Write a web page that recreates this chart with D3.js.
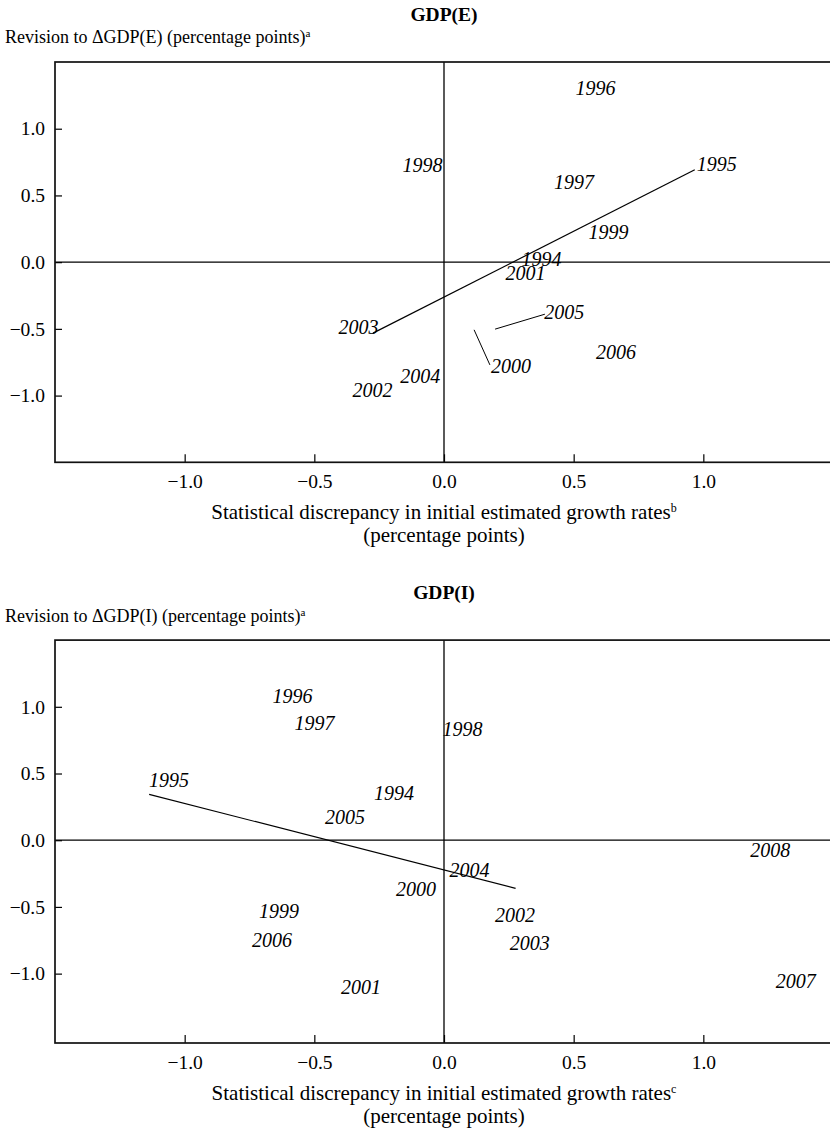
<!DOCTYPE html>
<html><head><meta charset="utf-8">
<script src="https://cdn.jsdelivr.net/npm/d3@7"></script>
<style>
body{margin:0;background:#fff}
svg{display:block}
text{font-family:"Liberation Serif","Times New Roman",serif;fill:#000}
</style>
</head><body>
<svg id="c" width="830" height="1130"></svg>
<script>
// ---- data ----
const xTicks = [-1.0, -0.5, 0.0, 0.5, 1.0];
const xTickLabels = ["\u22121.0", "\u22120.5", "0.0", "0.5", "1.0"];
const yTicks = [1.0, 0.5, 0.0, -0.5, -1.0];
const yTickLabels = ["1.0", "0.5", "0.0", "\u22120.5", "\u22121.0"];

// GDP(E) panel
const eYears = [1994, 1995, 1996, 1997, 1998, 1999, 2000, 2001, 2002, 2003, 2004, 2005, 2006];
const eX = [0.376, 1.052, 0.584, 0.501, -0.083, 0.634, 0.258, 0.314, -0.276, -0.330, -0.092, 0.464, 0.663];
const eY = [0.025, 0.737, 1.307, 0.602, 0.729, 0.227, -0.777, -0.080, -0.961, -0.485, -0.852, -0.376, -0.676];
const eFit = [[-0.274, -0.532], [0.967, 0.692]];
const eLeaders = [[0.197, -0.502, 0.389, -0.390], [0.116, -0.507, 0.177, -0.770]];

// GDP(I) panel
const iYears = [1994, 1995, 1996, 1997, 1998, 1999, 2000, 2001, 2002, 2003, 2004, 2005, 2006, 2007, 2008];
const iX = [-0.193, -1.060, -0.584, -0.499, 0.071, -0.636, -0.108, -0.320, 0.274, 0.331, 0.098, -0.382, -0.663, 1.356, 1.258];
const iY = [0.354, 0.451, 1.081, 0.879, 0.830, -0.531, -0.366, -1.098, -0.561, -0.771, -0.223, 0.170, -0.748, -1.055, -0.073];
const iFit = [[-1.137, 0.344], [0.276, -0.361]];
const iLeaders = [];

const panels = [
  {title: "GDP(E)", ylab: "Revision to \u0394GDP(E) (percentage points)", ysup: "a", xsup: "b",
   years: eYears, xs: eX, ys: eY, fit: eFit, leaders: eLeaders,
   yDomain: [-1.5, 1.5], top: 62, bottom: 462.3, titleY: 21, ylabY: 43},
  {title: "GDP(I)", ylab: "Revision to \u0394GDP(I) (percentage points)", ysup: "a", xsup: "c",
   years: iYears, xs: iX, ys: iY, fit: iFit, leaders: iLeaders,
   yDomain: [-1.52, 1.5], top: 640.1, bottom: 1043, titleY: 599, ylabY: 622}
];

const svg = d3.select("#c");
const left = 55, right = 833;
const x = d3.scaleLinear().domain([-1.5, 1.5]).range([left, right]);

panels.forEach(p => {
  const y = d3.scaleLinear().domain(p.yDomain).range([p.bottom, p.top]);
  const g = svg.append("g");

  g.append("text").attr("x", x(0)).attr("y", p.titleY).attr("text-anchor", "middle")
    .attr("font-weight", "bold").attr("font-size", 19.5).text(p.title);
  const yl = g.append("text").attr("x", 5).attr("y", p.ylabY).attr("font-size", 18);
  yl.append("tspan").text(p.ylab);
  yl.append("tspan").attr("font-size", 11).attr("dy", -6).text(p.ysup);

  // zero lines
  g.append("line").attr("x1", x(0)).attr("x2", x(0)).attr("y1", p.top).attr("y2", p.bottom)
    .attr("stroke", "#000").attr("stroke-width", 1.3);
  g.append("line").attr("x1", left).attr("x2", right).attr("y1", y(0)).attr("y2", y(0))
    .attr("stroke", "#000").attr("stroke-width", 1.3);

  // axes
  const xa = g.append("g").attr("transform", `translate(0,${p.bottom})`)
    .call(d3.axisBottom(x).tickValues(xTicks).tickSizeInner(-8).tickSizeOuter(0).tickPadding(12)
      .tickFormat((d, i) => xTickLabels[i]));
  const ya = g.append("g").attr("transform", `translate(${left},0)`)
    .call(d3.axisLeft(y).tickValues(yTicks).tickSizeInner(-7).tickSizeOuter(0).tickPadding(10)
      .tickFormat((d, i) => yTickLabels[i]));
  [xa, ya].forEach(a => {
    a.select(".domain").remove();
    a.selectAll("line").attr("stroke", "#000").attr("stroke-width", 1.2);
    a.selectAll("text").attr("font-size", 19.5).attr("font-family", "Liberation Serif").attr("fill", "#000");
  });

  // frame
  g.append("rect").attr("x", left).attr("y", p.top).attr("width", right - left).attr("height", p.bottom - p.top)
    .attr("fill", "none").attr("stroke", "#111").attr("stroke-width", 1.7);

  // x title
  const xt = g.append("text").attr("x", x(0)).attr("y", p.bottom + 57).attr("text-anchor", "middle").attr("font-size", 21);
  xt.append("tspan").text("Statistical discrepancy in initial estimated growth rates");
  xt.append("tspan").attr("font-size", 12).attr("dy", -7).text(p.xsup);
  g.append("text").attr("x", x(0)).attr("y", p.bottom + 80).attr("text-anchor", "middle").attr("font-size", 21)
    .text("(percentage points)");

  // fitted line
  g.append("path").datum(p.fit).attr("fill", "none").attr("stroke", "#000").attr("stroke-width", 1.2)
    .attr("d", d3.line().x(d => x(d[0])).y(d => y(d[1])));
  g.selectAll(".leader").data(p.leaders).join("line").attr("class", "leader")
    .attr("x1", d => x(d[0])).attr("y1", d => y(d[1])).attr("x2", d => x(d[2])).attr("y2", d => y(d[3]))
    .attr("stroke", "#000").attr("stroke-width", 1);

  // year labels
  g.selectAll(".yr").data(p.years).join("text").attr("class", "yr")
    .attr("x", (d, i) => x(p.xs[i])).attr("y", (d, i) => y(p.ys[i])).attr("dy", "0.34em")
    .attr("text-anchor", "middle").attr("font-style", "italic").attr("font-size", 20).text(d => d);
});
</script>
</body></html>
